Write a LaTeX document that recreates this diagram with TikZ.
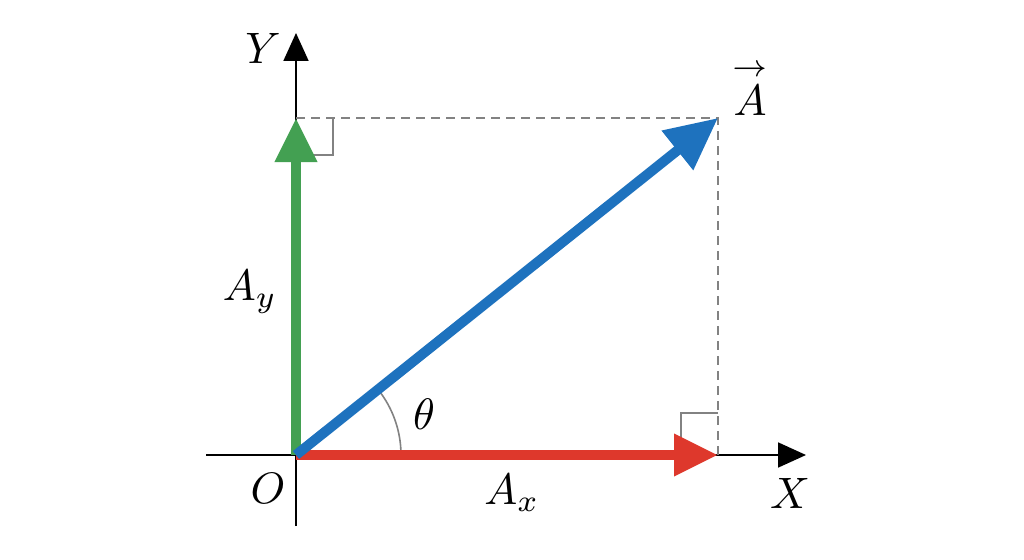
\documentclass[tikz,border=0pt]{standalone}
\usetikzlibrary{arrows.meta}
\definecolor{vgreen}{RGB}{67,160,82}
\definecolor{vblue}{RGB}{30,114,190}
\definecolor{vred}{RGB}{222,56,44}
\definecolor{guide}{RGB}{130,130,130}
\tikzset{
  axis/.style={line width=1.8pt,black,-{Triangle[length=28pt,width=25pt]}},
  vecarrow/.style={line width=10pt,-{Triangle[length=44pt,width=40pt]}},
  guideline/.style={guide,line width=1.6pt,dash pattern=on 9pt off 6pt},
  rightmark/.style={guide,line width=1.6pt},
  lbl/.style={scale=4.4,inner sep=0pt}
}
\begin{document}
\begin{tikzpicture}[x=1pt,y=-1pt]
\useasboundingbox (0,0) rectangle (1024,559);
\coordinate (O) at (296,455);
\coordinate (P) at (718,118);
\coordinate (Py) at (296,118);
\coordinate (Px) at (718,455);
\coordinate (Xs) at (206,455);
\coordinate (Xe) at (806,455);
\coordinate (Ys) at (296,526);
\coordinate (Ye) at (296,33);
% axes
\draw[axis] (Xs) -- (Xe);
\draw[axis] (Ys) -- (Ye);
% guides
\draw[guideline] (Py) -- (P) -- (Px);
\draw[rightmark] (296,155) -- (333,155) -- (333,118);
\draw[rightmark] (681,455) -- (681,413) -- (718,413);
% angle arc
\draw[guide,line width=1.6pt] ([shift={(105,0)}]O) arc[start angle=0,end angle=-38.6,radius=105];
% vectors
\draw[vecarrow,vgreen] (O) -- (Py);
\draw[vecarrow,vred] (O) -- (Px);
\draw[vecarrow,vblue,-{Triangle[length=52pt,width=48pt]}] (O) -- (P);
% labels
\node[lbl] (lY) at (263,48) {$Y$};
\node[lbl] (lX) at (790,493) {$X$};
\node[lbl] (lO) at (268,488) {$O$};
\node[lbl] (lA) at (750,88) {$\stackrel{\rightarrow}{A}$};
\node[lbl] (lAx) at (512,493) {$A_x$};
\node[lbl] (lAy) at (250,292) {$A_y$};
\node[lbl] (lth) at (424,414) {$\theta$};
\end{tikzpicture}
\end{document}
